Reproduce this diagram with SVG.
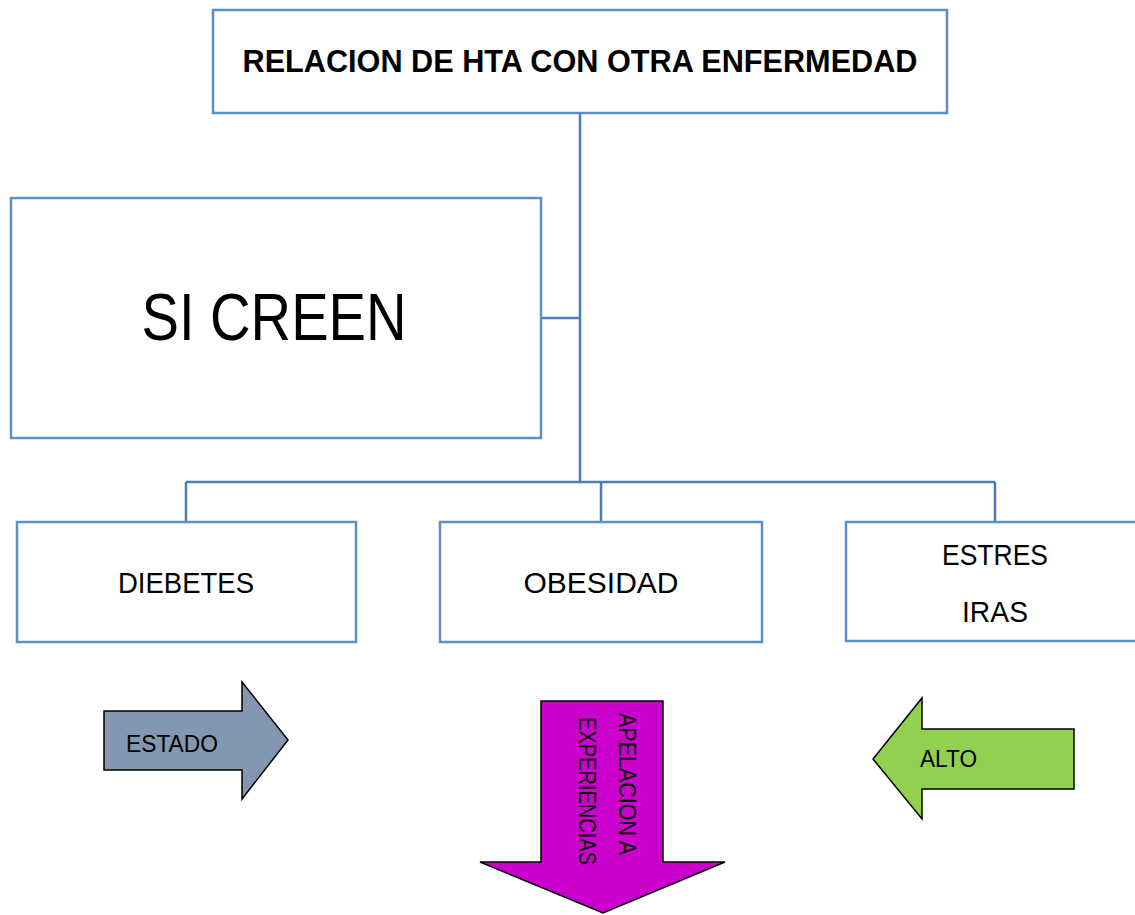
<svg xmlns="http://www.w3.org/2000/svg" width="1135" height="915" viewBox="0 0 1135 915">
<style>
.box{fill:#fff;stroke:#5b8fc7;stroke-width:2.5}
.conn{fill:none;stroke:#4a7ebb;stroke-width:2.5}
.t{font-family:"Liberation Sans",Arial,sans-serif;fill:#000}
.arr{stroke:#000;stroke-width:1.5;stroke-linejoin:miter}
</style>
<rect width="1135" height="915" fill="#fff"/>
<g id="connectors">
<path class="conn" d="M580,113 V482 M541,318 H580 M186,482 H995 M186,482 V522 M601,482 V522 M995,482 V522"/>
</g>
<g id="title">
<rect class="box" x="213" y="10" width="734" height="103"/>
<text class="t" x="580" y="72" font-size="32" font-weight="bold" text-anchor="middle" textLength="675" lengthAdjust="spacingAndGlyphs">RELACION DE HTA CON OTRA ENFERMEDAD</text>
</g>
<g id="si-creen">
<rect class="box" x="11" y="198" width="530" height="240"/>
<text class="t" x="274" y="340" font-size="67" text-anchor="middle" textLength="265" lengthAdjust="spacingAndGlyphs">SI CREEN</text>
</g>
<g id="diebetes">
<rect class="box" x="17" y="522" width="339" height="120"/>
<text class="t" x="186" y="593" font-size="29" text-anchor="middle" textLength="136" lengthAdjust="spacingAndGlyphs">DIEBETES</text>
</g>
<g id="obesidad">
<rect class="box" x="440" y="522" width="322" height="120"/>
<text class="t" x="601" y="593" font-size="29" text-anchor="middle" textLength="155" lengthAdjust="spacingAndGlyphs">OBESIDAD</text>
</g>
<g id="estres">
<rect class="box" x="846" y="522" width="300" height="119"/>
<text class="t" x="995" y="565" font-size="29" text-anchor="middle" textLength="106" lengthAdjust="spacingAndGlyphs">ESTRES</text>
<text class="t" x="995" y="622" font-size="29" text-anchor="middle" textLength="66" lengthAdjust="spacingAndGlyphs">IRAS</text>
</g>
<g id="estado">
<path class="arr" fill="#8497b0" d="M104,711 H242 V682 L288,740 L242,799 V770 H104 Z"/>
<text class="t" x="126" y="752" font-size="23" textLength="92" lengthAdjust="spacingAndGlyphs">ESTADO</text>
</g>
<g id="apelacion">
<path class="arr" fill="#cc00cc" d="M541,701 H663 V862 H725 L603,913 L480,862 H541 Z"/>
<text class="t" font-size="24" transform="translate(619,713) rotate(90)" textLength="142" lengthAdjust="spacingAndGlyphs">APELACION A</text>
<text class="t" font-size="24" transform="translate(579,717) rotate(90)" textLength="148" lengthAdjust="spacingAndGlyphs">EXPERIENCIAS</text>
</g>
<g id="alto">
<path class="arr" fill="#92d050" d="M1074,729 V789 H922 V819 L873,759 L922,698 V729 Z"/>
<text class="t" x="920" y="767" font-size="23" textLength="57" lengthAdjust="spacingAndGlyphs">ALTO</text>
</g>
</svg>
